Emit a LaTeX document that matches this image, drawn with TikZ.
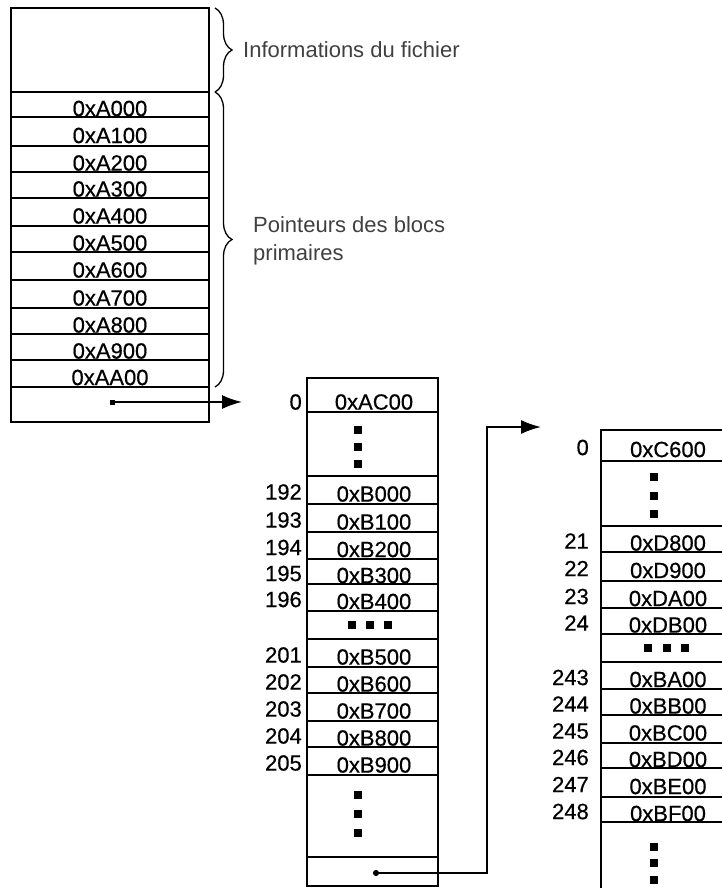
\documentclass[tikz,border=0pt]{standalone}
\usepackage{fontspec}
\setmainfont{Liberation Sans}
\newfontfamily\boxfont[FakeBold=0.5]{Liberation Sans}
\usetikzlibrary{arrows.meta,decorations.pathreplacing}

\begin{document}
\begin{tikzpicture}[x=1pt, y=-1pt,
  font=\fontsize{22}{26}\selectfont,
  frame/.style={line width=1.8pt},
  cell/.style={inner sep=0pt, font=\boxfont\fontsize{22}{26}\selectfont},
  idx/.style={inner sep=0pt, anchor=east, font=\boxfont\fontsize{22}{26}\selectfont},
  sq/.style={fill, minimum size=8pt, inner sep=0pt},
  note/.style={inner sep=0pt, align=left, text=black!75},
  curly/.style={line width=1.3pt, decorate, decoration={brace, amplitude=17pt}},
  ptr/.style={line width=1.8pt},
  >={Latex[length=20pt,width=14pt]}]
\clip (0,0) rectangle (722,888);
% inode: file info + direct block pointers
\draw[frame] (11,8) rectangle (209,92);
\foreach \t/\b/\txt [count=\i] in {92/117/A000, 117/146/A100, 146/172/A200,
    172/198/A300, 198/226/A400, 226/252/A500, 252/280/A600, 280/308/A700,
    308/334/A800, 334/360/A900, 360/387/AA00}
  {\draw[frame] (11,\t) rectangle (209,\b);
   \node[cell] (a\i) at (110,{(\t+\b)/2+4}) {0x\txt};}
\draw[frame] (11,387) rectangle (209,422);
\coordinate (p1) at (110,402);
\coordinate (t1) at (242,402);
\draw[curly] (215,8) -- (215,92);
\draw[curly] (215,92) -- (215,387);
\node[note, anchor=west] (info) at (243,50) {Informations du fichier};
\node[note, anchor=north west, font=\fontsize{22}{28}\selectfont] (prim) at (253,216) {Pointeurs des blocs\\primaires};
% first indirect block
\foreach \t/\b/\n/\txt/\o in {378/412/0/AC00/7, 476/504/192/B000/2, 504/532/193/B100/2,
    532/559/194/B200/2, 559/584/195/B300/2, 584/611/196/B400/2, 639/667/201/B500/2,
    667/693/202/B600/2, 693/721/203/B700/2, 721/747/204/B800/2, 747/775/205/B900/2}
  {\draw[frame] (307,\t) rectangle (438,\b);
   \node[cell] (b\n) at (374,{(\t+\b)/2+max(4,\o)}) {0x\txt};
   \node[idx] (nb\n) at (302,{(\t+\b)/2+\o}) {\n};}
\foreach \t/\b in {412/476, 611/639, 775/857, 857/886}
  \draw[frame] (307,\t) rectangle (438,\b);
\foreach \y [count=\i] in {430,447,464} \node[sq] (bu\i) at (358,\y) {};
\foreach \y [count=\i] in {795,814,833} \node[sq] (bd\i) at (358,\y) {};
\foreach \x [count=\i] in {352,370,388} \node[sq] (bh\i) at (\x,625) {};
\coordinate (p2) at (373,873);
\coordinate (k2) at (487,427);
\coordinate (t2) at (541,427);
% second indirect block
\foreach \t/\b/\n/\txt in {430/461/0/C600, 526/552/21/D800, 552/581/22/D900,
    581/608/23/DA00, 608/634/24/DB00, 662/689/243/BA00, 689/715/244/BB00,
    715/743/245/BC00, 743/768/246/BD00, 768/797/247/BE00, 797/822/248/BF00}
  {\draw[frame] (601,\t) rectangle (735,\b);
   \node[cell] (c\n) at (668,{(\t+\b)/2+4}) {0x\txt};
   \node[idx] (nc\n) at (589,{(\t+\b)/2+2}) {\n};}
\foreach \t/\b in {461/526, 634/662, 822/900}
  \draw[frame] (601,\t) rectangle (735,\b);
\foreach \y [count=\i] in {477,496,514} \node[sq] (cu\i) at (654,\y) {};
\foreach \y [count=\i] in {847,863,880} \node[sq] (cd\i) at (654,\y) {};
\foreach \x [count=\i] in {648,667,685} \node[sq] (ch\i) at (\x,648) {};
% pointers
\draw[ptr, {Square[length=5pt,width=5pt]}->] (p1) -- (t1);
\draw[ptr, {Circle[length=6pt]}->] (p2) -| (k2) -- (t2);
\end{tikzpicture}
\end{document}
